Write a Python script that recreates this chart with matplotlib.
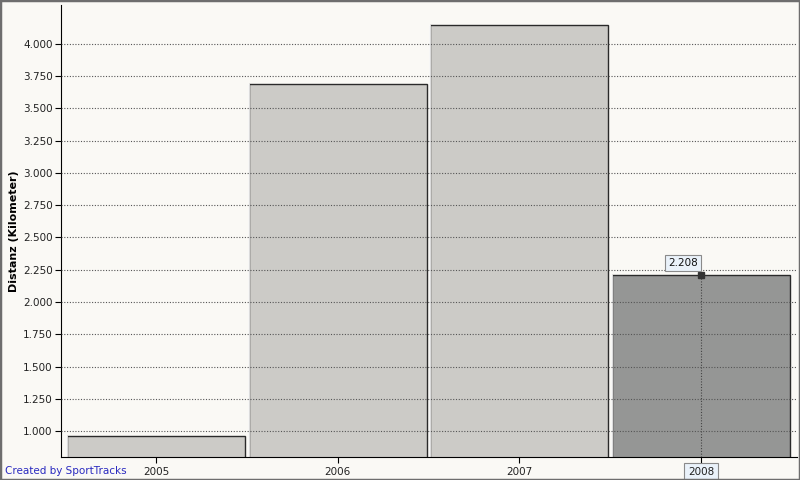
import matplotlib
matplotlib.use("Agg")
import matplotlib.pyplot as plt
from matplotlib.patches import Rectangle

years = ["2005", "2006", "2007", "2008"]
distance = [0.962, 3.69, 4.147, 2.208]
bar_colors = ["#cccbc7", "#cccbc7", "#cccbc7", "#959695"]
yticks = [1.0, 1.25, 1.5, 1.75, 2.0, 2.25, 2.5, 2.75, 3.0, 3.25, 3.5, 3.75, 4.0]
hover_idx = 3

plt.rcParams['font.family'] = ['DejaVu Sans']

bg = "#faf9f5"
fig = plt.figure(figsize=(8, 4.8), dpi=100, facecolor=bg)
ax = fig.add_axes([61 / 800, 23 / 480, 736 / 800, 452 / 480])
ax.set_facecolor(bg)

x = list(range(len(years)))
bars = ax.bar(x, distance, width=0.98, color=bar_colors, edgecolor="#2a2a2a",
              linewidth=1.0, zorder=1)
# white highlight on the left edge of each bar
for b in bars:
    ax.plot([b.get_x(), b.get_x()], [0.8, b.get_height()], color="white",
            lw=1.2, zorder=1.5, solid_capstyle="butt")

ax.set_xlim(-0.523, 3.528)
ax.set_ylim(0.8, 4.3)
ax.set_yticks(yticks)
ax.set_yticklabels(["%.3f" % v for v in yticks])
ax.set_xticks(x)
ax.set_xticklabels(years)

ax.grid(axis="y", color="#555555", linestyle=(0, (1, 1.5)), linewidth=0.8)
ax.set_axisbelow(False)

for s in ["top", "right"]:
    ax.spines[s].set_visible(False)
ax.spines["left"].set_color("black")
ax.spines["bottom"].set_color("black")
ax.tick_params(axis="both", length=4, width=0.8, colors="black",
               labelsize=7.5, labelcolor="#222222")
ax.tick_params(axis="x", pad=3)
ax.tick_params(axis="y", pad=2)

ax.set_ylabel("Distanz (Kilometer)", fontsize=8, fontweight="bold", labelpad=3)

# hover tooltip on 2008
hx = x[hover_idx]
hy = distance[hover_idx]
ax.plot([hx, hx], [0.8, hy], color="#444444", lw=0.8, linestyle=(0, (1, 1.5)), zorder=3)
ax.plot([hx], [hy], marker="s", markersize=5, color="#333333", zorder=4, clip_on=False)
ax.annotate("%.3f" % hy, (hx, hy), xytext=(-13, 8.6), textcoords="offset points",
            fontsize=7.5, color="#111111", ha="center", va="center",
            bbox=dict(boxstyle="square,pad=0.3", fc="#eaf2fa", ec="#8a8a8a", lw=0.8),
            zorder=5)
lbl = ax.get_xticklabels()[hover_idx]
lbl.set_bbox(dict(boxstyle="square,pad=0.35", fc="#eaf2fa", ec="#8a8a8a", lw=0.8))

fig.text(5 / 800, 1 - 471 / 480, "Created by SportTracks", color="#2a2ac0",
         fontsize=7.5, va="center", ha="left")

# outer frame
fig.patches.append(Rectangle((0, 0), 1, 1, transform=fig.transFigure, fill=False,
                             ec="#6e6e6e", lw=2.5))

fig.savefig("out.png", dpi=100, facecolor=bg)
